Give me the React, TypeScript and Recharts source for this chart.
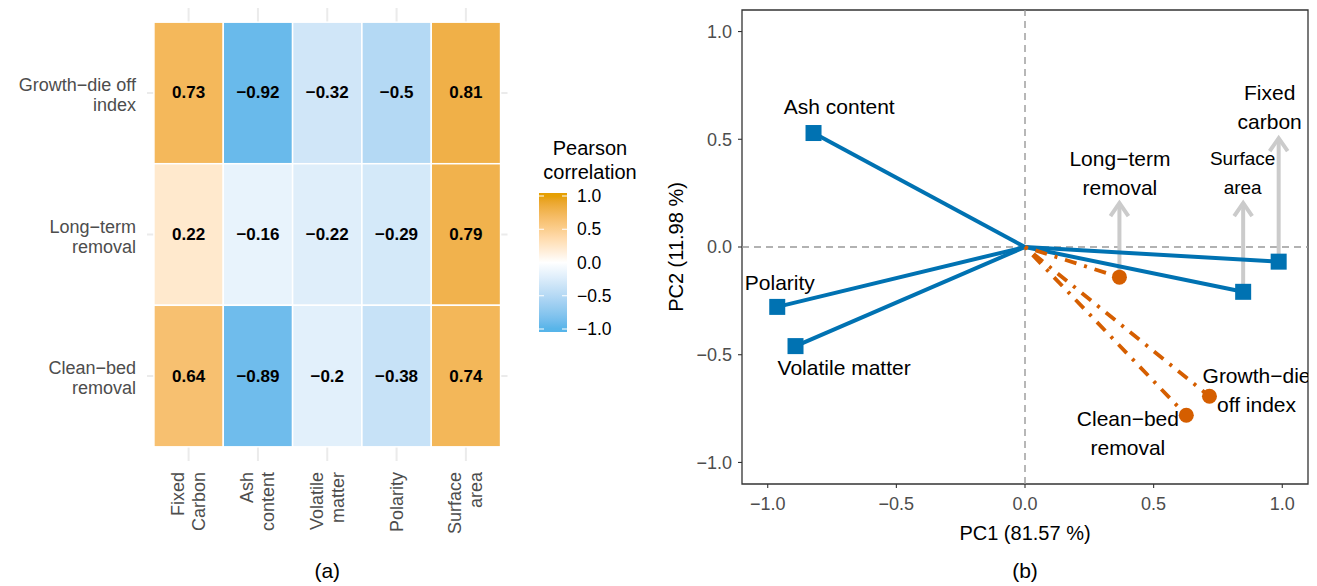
import React from "react";
import {
  CartesianGrid,
  Label,
  ReferenceArea,
  ReferenceLine,
  Scatter,
  ScatterChart,
  XAxis,
  YAxis,
} from "recharts";

// ---- heatmap data (a) ----
const properties = ["Fixed Carbon", "Ash content", "Volatile matter", "Polarity", "Surface area"];
const propertyTicks = [["Fixed", "Carbon"], ["Ash", "content"], ["Volatile", "matter"], ["Polarity"], ["Surface", "area"]];
const responses = ["Growth−die off index", "Long−term removal", "Clean−bed removal"];
const responseTicks = [["Growth−die off", "index"], ["Long−term", "removal"], ["Clean−bed", "removal"]];
const growthDieOff = [0.73, -0.92, -0.32, -0.5, 0.81];
const longTermRemoval = [0.22, -0.16, -0.22, -0.29, 0.79];
const cleanBedRemoval = [0.64, -0.89, -0.2, -0.38, 0.74];
const legendTicks = [1, 0.5, 0, -0.5, -1];

// ---- PCA data (b) ----
const pcaVariables = ["Fixed carbon", "Ash content", "Volatile matter", "Polarity", "Surface area"];
const pc1Variables = [0.986, -0.822, -0.892, -0.963, 0.848];
const pc2Variables = [-0.068, 0.529, -0.46, -0.278, -0.208];
const pcaResponses = ["Growth−die off index", "Long−term removal", "Clean−bed removal"];
const pc1Responses = [0.717, 0.367, 0.627];
const pc2Responses = [-0.693, -0.14, -0.781];
const pcaTicks = [-1, -0.5, 0, 0.5, 1];

// label placement (data units) and arrow tips, kept apart from the values
const pcaLabels: Record<string, { x: number; y: number; lines: string[]; size: number; arrowTo?: number }> = {
  "Fixed carbon": { x: 0.951, y: 0.651, lines: ["Fixed", "carbon"], size: 21, arrowTo: 0.505 },
  "Ash content": { x: -0.722, y: 0.653, lines: ["Ash content"], size: 21 },
  "Volatile matter": { x: -0.703, y: -0.557, lines: ["Volatile matter"], size: 21 },
  Polarity: { x: -0.953, y: -0.161, lines: ["Polarity"], size: 21 },
  "Surface area": { x: 0.846, y: 0.347, lines: ["Surface", "area"], size: 19, arrowTo: 0.204 },
  "Growth−die off index": { x: 0.9, y: -0.66, lines: ["Growth−die", "off index"], size: 21 },
  "Long−term removal": { x: 0.369, y: 0.344, lines: ["Long−term", "removal"], size: 21, arrowTo: 0.204 },
  "Clean−bed removal": { x: 0.4, y: -0.863, lines: ["Clean−bed", "removal"], size: 21 },
};

const FONT = '"Liberation Sans", Arial, Helvetica, sans-serif';
const BLUE = "#0072B2";
const ORANGE = "#D55E00";
const ARROW = "#CBCBCB";
const LOW = "#56B4E9";
const HIGH = "#E69F00";

// ---- Lab colour ramp like scale_fill_gradient2 ----
const toLin = (c: number) => {
  c /= 255;
  return c <= 0.04045 ? c / 12.92 : Math.pow((c + 0.055) / 1.055, 2.4);
};
const fromLin = (c: number) => {
  const v = c <= 0.0031308 ? 12.92 * c : 1.055 * Math.pow(c, 1 / 2.4) - 0.055;
  return Math.round(Math.min(1, Math.max(0, v)) * 255);
};
function toLab(hex: string) {
  const r = toLin(parseInt(hex.slice(1, 3), 16));
  const g = toLin(parseInt(hex.slice(3, 5), 16));
  const b = toLin(parseInt(hex.slice(5, 7), 16));
  const X = (0.4124564 * r + 0.3575761 * g + 0.1804375 * b) / 0.95047;
  const Y = 0.2126729 * r + 0.7151522 * g + 0.072175 * b;
  const Z = (0.0193339 * r + 0.119192 * g + 0.9503041 * b) / 1.08883;
  const f = (t: number) => (t > 0.008856 ? Math.cbrt(t) : 7.787 * t + 16 / 116);
  return [116 * f(Y) - 16, 500 * (f(X) - f(Y)), 200 * (f(Y) - f(Z))];
}
function fromLab([L, a, bb]: number[]) {
  const fy = (L + 16) / 116;
  const fx = fy + a / 500;
  const fz = fy - bb / 200;
  const inv = (t: number) => (t * t * t > 0.008856 ? t * t * t : (t - 16 / 116) / 7.787);
  const X = inv(fx) * 0.95047;
  const Y = inv(fy);
  const Z = inv(fz) * 1.08883;
  const r = 3.2404542 * X - 1.5371385 * Y - 0.4985314 * Z;
  const g = -0.969266 * X + 1.8760108 * Y + 0.041556 * Z;
  const b = 0.0556434 * X - 0.2040259 * Y + 1.0572252 * Z;
  return `rgb(${fromLin(r)},${fromLin(g)},${fromLin(b)})`;
}
const labWhite = toLab("#FFFFFF");
const labLow = toLab(LOW);
const labHigh = toLab(HIGH);
function fillFor(v: number) {
  const t = Math.min(1, Math.abs(v));
  const end = v >= 0 ? labHigh : labLow;
  return fromLab(labWhite.map((w, i) => w + (end[i] - w) * t));
}
const minus = (s: string) => s.replace("-", "−");

// ---- heatmap layout ----
const HM_W = 520;
const HM_H = 586;
const HM_TOP = 8;
const HM_RIGHT = 12.5;
const HM_YW = 147;
const HM_XH = 125;
const HM_XDOM = [0.4, 5.6];
const HM_YDOM = [0.4, 3.6];
const HM_XTICKS = [1, 2, 3, 4, 5];
const HM_YTICKS = [1, 2, 3];
const hmPlotW = HM_W - HM_YW - HM_RIGHT;
const hmPlotH = HM_H - HM_TOP - HM_XH;
const cellW = hmPlotW / (HM_XDOM[1] - HM_XDOM[0]);
const cellH = hmPlotH / (HM_YDOM[1] - HM_YDOM[0]);
// grid lines only at the category centres (same linear mapping as the axes)
const hmGridX = HM_XTICKS.map((v) => HM_YW + (v - HM_XDOM[0]) * cellW);
const hmGridY = HM_YTICKS.map((v) => HM_TOP + (v - HM_YDOM[0]) * cellH);

const heatRows = [growthDieOff, longTermRemoval, cleanBedRemoval];
const cells = heatRows.flatMap((vals, ri) =>
  vals.map((v, ci) => ({ col: ci + 1, row: ri + 1, value: v, property: properties[ci], response: responses[ri] }))
);

function HeatXTick(props: any) {
  const { x, y, payload } = props;
  const lines = propertyTicks[Math.round(payload.value) - 1] || [];
  const n = lines.length;
  return (
    <g transform={`translate(${x},${y})`}>
      <text transform="rotate(-90)" textAnchor="end" fill="#4D4D4D" fontSize={18} fontFamily={FONT} dominantBaseline="central">
        {lines.map((l, i) => (
          <tspan key={i} x={0} y={(i - (n - 1) / 2) * 21} dominantBaseline="central">
            {l}
          </tspan>
        ))}
      </text>
    </g>
  );
}

function HeatYTick(props: any) {
  const { x, y, payload } = props;
  const lines = responseTicks[Math.round(payload.value) - 1] || [];
  const n = lines.length;
  return (
    <text textAnchor="end" fill="#4D4D4D" fontSize={18} fontFamily={FONT} dominantBaseline="central">
      {lines.map((l, i) => (
        <tspan key={i} x={x} y={y + (i - (n - 1) / 2) * 20 + 2} dominantBaseline="central">
          {l}
        </tspan>
      ))}
    </text>
  );
}

function HeatCell(props: any) {
  const { cx, cy, payload } = props;
  return (
    <g>
      <rect
        x={cx - cellW / 2}
        y={cy - cellH / 2}
        width={cellW}
        height={cellH}
        fill={fillFor(payload.value)}
        stroke="#FFFFFF"
        strokeWidth={1.5}
      />
      <text x={cx} y={cy} textAnchor="middle" dominantBaseline="central" fontWeight="bold" fontSize={17} fontFamily={FONT} fill="#000">
        {minus(String(payload.value))}
      </text>
    </g>
  );
}

function Heatmap() {
  return (
    <ScatterChart width={HM_W} height={HM_H} margin={{ top: HM_TOP, right: HM_RIGHT, left: 0, bottom: 0 }}>
      <CartesianGrid stroke="#EBEBEB" strokeWidth={2} verticalPoints={hmGridX} horizontalPoints={hmGridY} />
      <XAxis
        type="number"
        dataKey="col"
        domain={HM_XDOM}
        ticks={HM_XTICKS}
        interval={0}
        allowDataOverflow
        axisLine={false}
        tickLine={false}
        tickSize={0}
        tickMargin={11}
        height={HM_XH}
        tick={(p: any) => <HeatXTick {...p} />}
      >
        <Label
          content={() => (
            <text x={HM_YW + hmPlotW / 2} y={570} textAnchor="middle" dominantBaseline="central" fontSize={21} fontFamily={FONT} fill="#000">
              (a)
            </text>
          )}
        />
      </XAxis>
      <YAxis
        type="number"
        dataKey="row"
        domain={HM_YDOM}
        ticks={HM_YTICKS}
        interval={0}
        reversed
        allowDataOverflow
        axisLine={false}
        tickLine={false}
        tickSize={0}
        tickMargin={11}
        width={HM_YW}
        tick={(p: any) => <HeatYTick {...p} />}
      />
      <Scatter data={cells} isAnimationActive={false} shape={(p: any) => <HeatCell {...p} />} />
    </ScatterChart>
  );
}

function ColourLegend() {
  const barX = 539;
  const barTop = 193;
  const barBot = 332;
  const zeroY = 262.5;
  const perUnit = 66.5;
  const stops = Array.from({ length: 41 }, (_, i) => {
    const off = i / 40;
    const y = barTop + off * (barBot - barTop);
    const v = Math.max(-1, Math.min(1, (zeroY - y) / perUnit));
    return { off, col: fillFor(v) };
  });
  return (
    <svg width={1317} height={586} style={{ position: "absolute", left: 0, top: 0, pointerEvents: "none" }}>
      <defs>
        <linearGradient id="pearsonBar" x1="0" y1="0" x2="0" y2="1">
          {stops.map((s, i) => (
            <stop key={i} offset={s.off} stopColor={s.col} />
          ))}
        </linearGradient>
      </defs>
      <text x={590} y={148} textAnchor="middle" dominantBaseline="central" fontSize={20} fontFamily={FONT} fill="#000">
        Pearson
      </text>
      <text x={590} y={172} textAnchor="middle" dominantBaseline="central" fontSize={20} fontFamily={FONT} fill="#000">
        correlation
      </text>
      <rect x={barX} y={barTop} width={28} height={barBot - barTop} fill="url(#pearsonBar)" />
      {legendTicks.map((v) => {
        const y = zeroY - v * perUnit;
        return (
          <g key={v}>
            <line x1={barX} x2={barX + 5} y1={y} y2={y} stroke="#FFFFFF" strokeWidth={1} />
            <line x1={barX + 23} x2={barX + 28} y1={y} y2={y} stroke="#FFFFFF" strokeWidth={1} />
            <text x={577} y={y} dominantBaseline="central" fontSize={17.5} fontFamily={FONT} fill="#000">
              {minus(v.toFixed(1))}
            </text>
          </g>
        );
      })}
    </svg>
  );
}

// ---- PCA layout ----
const PCA_LEFT = 650;
const PCA_W = 667;
const PCA_H = 586;
const PCA_TOP = 10;
const PCA_RIGHT = 9;
const PCA_YW = 92;
const PCA_XH = 102;
const PCA_DOM = [-1.1, 1.1];
const pcaPlotW = PCA_W - PCA_YW - PCA_RIGHT;
const pcaPlotH = PCA_H - PCA_TOP - PCA_XH;

const fmtTick = (v: number) => minus(v.toFixed(1));

const varSegments = pcaVariables.map((name, i) => ({
  name,
  data: [
    { x: 0, y: 0, end: false },
    { x: pc1Variables[i], y: pc2Variables[i], end: true },
  ],
}));
const respSegments = pcaResponses.map((name, i) => ({
  name,
  data: [
    { x: 0, y: 0, end: false },
    { x: pc1Responses[i], y: pc2Responses[i], end: true },
  ],
}));
const arrowSegments = [
  ...pcaVariables.map((n, i) => ({ name: n, x: pc1Variables[i], y: pc2Variables[i] })),
  ...pcaResponses.map((n, i) => ({ name: n, x: pc1Responses[i], y: pc2Responses[i] })),
]
  .filter((p) => pcaLabels[p.name].arrowTo !== undefined)
  .map((p) => ({
    name: p.name,
    data: [
      { x: p.x, y: p.y, tip: false },
      { x: p.x, y: pcaLabels[p.name].arrowTo as number, tip: true },
    ],
  }));
const labelData = [...pcaVariables, ...pcaResponses].map((n) => ({ name: n, ...pcaLabels[n] }));

function PcaChart() {
  return (
    <ScatterChart width={PCA_W} height={PCA_H} margin={{ top: PCA_TOP, right: PCA_RIGHT, left: 0, bottom: 0 }}>
      <XAxis
        type="number"
        dataKey="x"
        domain={PCA_DOM}
        ticks={pcaTicks}
        interval={0}
        allowDataOverflow
        axisLine={false}
        tickLine={{ stroke: "#333333", strokeWidth: 1.1 }}
        tickSize={4}
        tickMargin={9}
        tickFormatter={fmtTick}
        tick={{ fill: "#4D4D4D", fontSize: 18, fontFamily: FONT }}
        height={PCA_XH}
      >
        <Label
          content={() => (
            <g fontFamily={FONT} fill="#000" textAnchor="middle">
              <text x={PCA_YW + pcaPlotW / 2} y={PCA_TOP + pcaPlotH + 49} dominantBaseline="central" fontSize={20}>
                PC1 (81.57 %)
              </text>
              <text x={PCA_YW + pcaPlotW / 2} y={570} dominantBaseline="central" fontSize={21}>
                (b)
              </text>
            </g>
          )}
        />
      </XAxis>
      <YAxis
        type="number"
        dataKey="y"
        domain={PCA_DOM}
        ticks={pcaTicks}
        interval={0}
        allowDataOverflow
        axisLine={false}
        tickLine={{ stroke: "#333333", strokeWidth: 1.1 }}
        tickSize={4}
        tickMargin={6}
        tickFormatter={fmtTick}
        tick={{ fill: "#4D4D4D", fontSize: 18, fontFamily: FONT }}
        width={PCA_YW}
      >
        <Label
          content={() => (
            <text
              transform={`translate(26,${PCA_TOP + pcaPlotH / 2}) rotate(-90)`}
              textAnchor="middle"
              dominantBaseline="central"
              fontSize={20}
              fontFamily={FONT}
              fill="#000"
            >
              PC2 (11.98 %)
            </text>
          )}
        />
      </YAxis>
      <ReferenceLine x={0} stroke="#999999" strokeWidth={1.4} strokeDasharray="7 5" />
      <ReferenceLine y={0} stroke="#999999" strokeWidth={1.4} strokeDasharray="7 5" />
      {arrowSegments.map((s) => (
        <Scatter
          key={`arrow-${s.name}`}
          data={s.data}
          isAnimationActive={false}
          fill={ARROW}
          line={{ stroke: ARROW, strokeWidth: 4 }}
          shape={(p: any) =>
            p.payload.tip ? (
              <polyline
                points={`${p.cx - 9},${p.cy + 13} ${p.cx},${p.cy} ${p.cx + 9},${p.cy + 13}`}
                fill="none"
                stroke={ARROW}
                strokeWidth={4}
              />
            ) : (
              <g />
            )
          }
        />
      ))}
      {varSegments.map((s) => (
        <Scatter
          key={`var-${s.name}`}
          data={s.data}
          isAnimationActive={false}
          fill={BLUE}
          line={{ stroke: BLUE, strokeWidth: 4 }}
          shape={(p: any) =>
            p.payload.end ? <rect x={p.cx - 8} y={p.cy - 8} width={16} height={16} fill={BLUE} /> : <g />
          }
        />
      ))}
      {respSegments.map((s) => (
        <Scatter
          key={`resp-${s.name}`}
          data={s.data}
          isAnimationActive={false}
          fill={ORANGE}
          line={{ stroke: ORANGE, strokeWidth: 3.8, strokeDasharray: "3 8 12 8" }}
          shape={(p: any) => (p.payload.end ? <circle cx={p.cx} cy={p.cy} r={7.5} fill={ORANGE} /> : <g />)}
        />
      ))}
      <Scatter
        data={labelData}
        isAnimationActive={false}
        shape={(p: any) => {
          const { cx, cy, payload } = p;
          const n = payload.lines.length;
          return (
            <text textAnchor="middle" dominantBaseline="central" fontSize={payload.size} fontFamily={FONT} fill="#000">
              {payload.lines.map((l: string, i: number) => (
                <tspan key={i} x={cx} y={cy + (i - (n - 1) / 2) * 29} dominantBaseline="central">
                  {l}
                </tspan>
              ))}
            </text>
          );
        }}
      />
      <ReferenceArea
        x1={PCA_DOM[0]}
        x2={PCA_DOM[1]}
        y1={PCA_DOM[0]}
        y2={PCA_DOM[1]}
        ifOverflow="visible"
        fill="none"
        fillOpacity={0}
        stroke="#333333"
        strokeWidth={1.3}
      />
    </ScatterChart>
  );
}

export default function App() {
  return (
    <div style={{ position: "absolute", left: 0, top: 0, width: 1317, height: 586, background: "#FFFFFF", fontFamily: FONT }}>
      <div style={{ position: "absolute", left: 0, top: 0 }}>
        <Heatmap />
      </div>
      <ColourLegend />
      <div style={{ position: "absolute", left: PCA_LEFT, top: 0 }}>
        <PcaChart />
      </div>
    </div>
  );
}
